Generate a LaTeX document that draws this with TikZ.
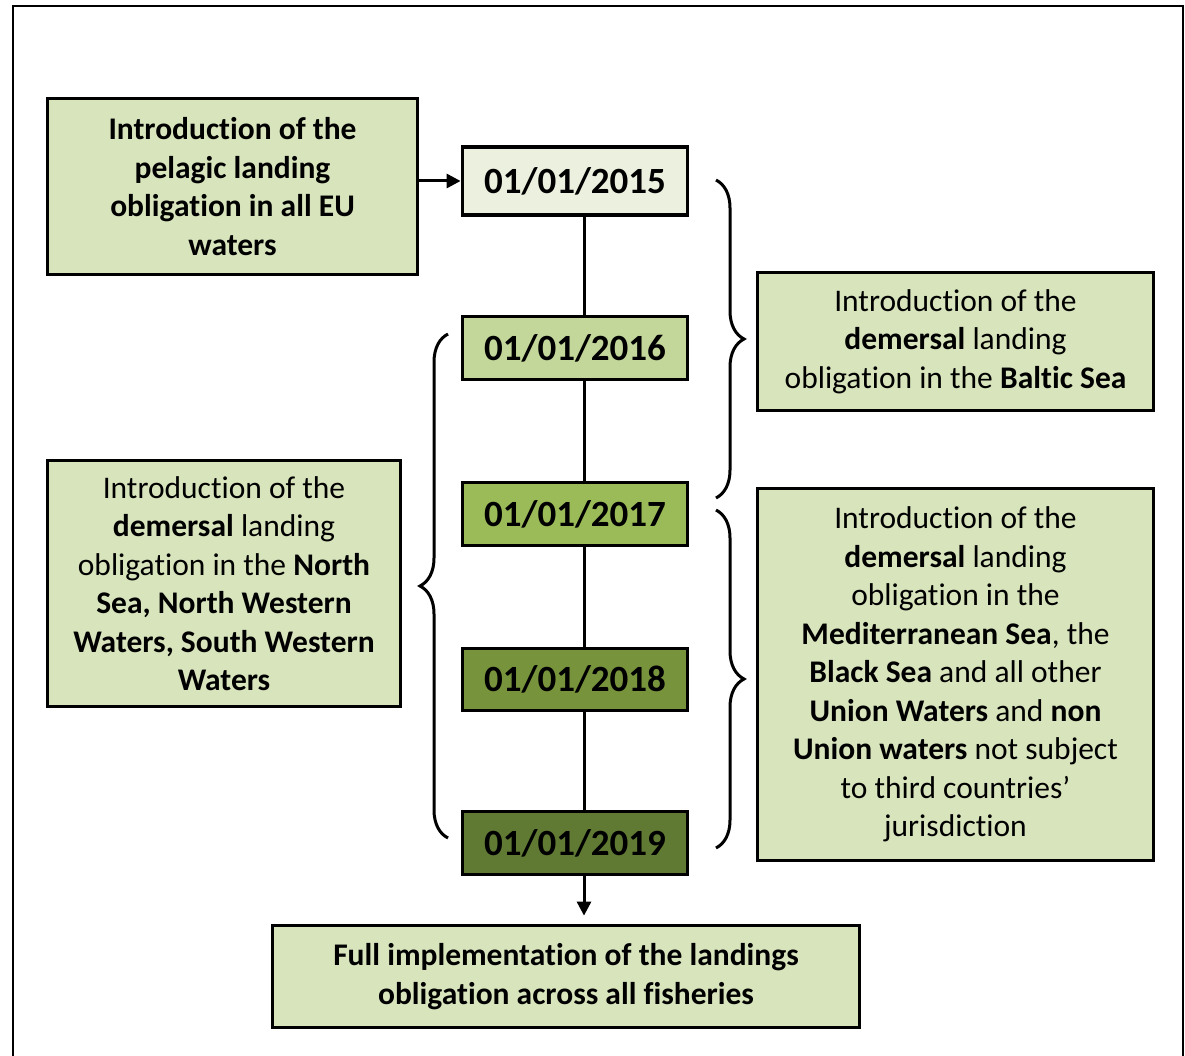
\documentclass[tikz,border=0pt]{standalone}
\usepackage{fontspec}
\setmainfont{Carlito}[Ligatures={NoCommon,NoRare,NoContextual}]
\usetikzlibrary{arrows.meta,decorations.pathreplacing}
\definecolor{boxgreen}{HTML}{D8E4BC}
\definecolor{dA}{HTML}{EBF1DE}
\definecolor{dB}{HTML}{C4D79B}
\definecolor{dC}{HTML}{9BBB59}
\definecolor{dD}{HTML}{77933C}
\definecolor{dE}{HTML}{617A33}
\begin{document}
\begin{tikzpicture}[x=1pt,y=-1pt,
  txtbox/.style={draw=black, line width=3.8pt, fill=boxgreen, inner sep=0pt, align=center,
    font=\fontsize{31.5}{38.5}\selectfont},
  datebox/.style={draw=black, line width=3.8pt, minimum width=225pt, inner sep=0pt,
    font=\fontsize{37}{44}\selectfont\bfseries},
  conn/.style={line width=3pt},
  arr/.style={line width=3pt, -{Triangle[length=14pt,width=14pt]}},
  brc/.style={decorate, decoration={brace, amplitude=28pt, aspect=0.5}, line width=3pt}]
\useasboundingbox (0,0) rectangle (1185,1056);
\fill[white] (0,0) rectangle (1185,1056);
\draw[line width=2pt] (13,1070) -- (13,6) -- (1183,6) -- (1183,1070);

% date boxes
\node[datebox, fill=dA, minimum height=68pt] (d15) at (575,181) {01/01/2015};
\node[datebox, fill=dB, minimum height=63pt] (d16) at (575,348) {01/01/2016};
\node[datebox, fill=dC, minimum height=63pt] (d17) at (575,514) {01/01/2017};
\node[datebox, fill=dD, minimum height=62pt] (d18) at (575,679.5) {01/01/2018};
\node[datebox, fill=dE, minimum height=63pt] (d19) at (575,843) {01/01/2019};

% text boxes
\node[txtbox, font=\fontsize{31.5}{38.5}\selectfont\bfseries, minimum width=370pt, minimum height=176pt] (pel) at (232.5,186.5)
  {Introduction of the\\pelagic landing\\obligation in all EU\\waters};
\node[txtbox, minimum width=396pt, minimum height=138pt] (balt) at (955.5,341.5)
  {Introduction of the\\\textbf{demersal} landing\\obligation in the \textbf{Baltic Sea}};
\node[txtbox, minimum width=396pt, minimum height=372pt] (med) at (955.5,674.5)
  {Introduction of the\\\textbf{demersal} landing\\obligation in the\\\textbf{Mediterranean Sea}, the\\\textbf{Black Sea} and all other\\\textbf{Union Waters} and \textbf{non}\\\textbf{Union waters} not subject\\to third countries’\\jurisdiction};
\node[txtbox, minimum width=353pt, minimum height=246pt] (north) at (224,583.5)
  {Introduction of the\\\textbf{demersal} landing\\obligation in the \textbf{North}\\\textbf{Sea, North Western}\\\textbf{Waters, South Western}\\\textbf{Waters}};
\node[txtbox, font=\fontsize{31.5}{38.5}\selectfont\bfseries, minimum width=587pt, minimum height=102pt] (full) at (566,976.5)
  {Full implementation of the landings\\obligation across all fisheries};

% connectors
\draw[conn] ([xshift=9pt]d15.south) -- ([xshift=9pt]d16.north);
\draw[conn] ([xshift=9pt]d16.south) -- ([xshift=9pt]d17.north);
\draw[conn] ([xshift=9pt]d17.south) -- ([xshift=9pt]d18.north);
\draw[conn] ([xshift=9pt]d18.south) -- ([xshift=9pt]d19.north);
\draw[arr] ([xshift=9pt]d19.south) -- ([xshift=18pt,yshift=8pt]full.north);
\draw[arr] (pel.east |- d15.west) -- (d15.west);

% braces
\coordinate (b1t) at (716,180);
\coordinate (b1b) at (716,498);
\coordinate (b2t) at (716,510);
\coordinate (b2b) at (716,848);
\coordinate (b3t) at (448,334);
\coordinate (b3b) at (448,838);
\draw[brc] (b1t) -- (b1b);
\draw[brc] (b2t) -- (b2b);
\draw[brc] (b3b) -- (b3t);
\end{tikzpicture}
\end{document}
